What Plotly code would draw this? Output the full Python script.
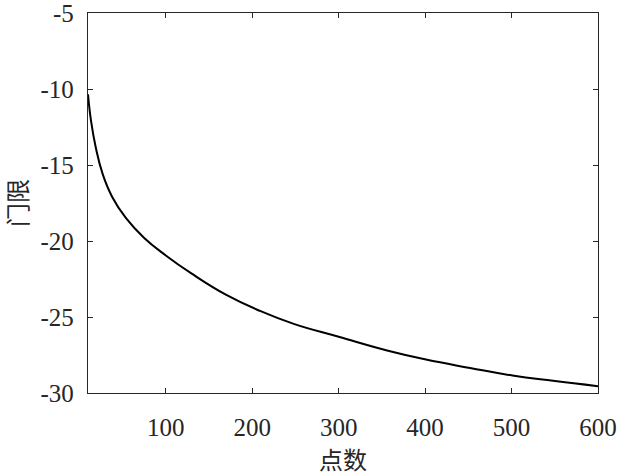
import plotly.graph_objects as go

# values
points = [10, 13.5, 19, 27, 38, 54, 75, 100, 130, 170, 209, 248, 300, 356, 401, 452, 501, 548, 600]
threshold = [-10.35, -12.1, -13.85, -15.6, -17.1, -18.5, -19.8, -20.95, -22.15, -23.55, -24.6,
             -25.45, -26.3, -27.2, -27.8, -28.35, -28.85, -29.2, -29.55]

x_ticks = [100, 200, 300, 400, 500, 600]
y_ticks = [-30, -25, -20, -15, -10, -5]
y_labels = ["-30", "-25", "-20", "-15", "-10", "-5"]

font_family = "Liberation Serif, Noto Sans CJK SC, serif"
axis_color = "#262626"

fig = go.Figure()
fig.add_trace(go.Scatter(
    x=points, y=threshold,
    mode="lines",
    line=dict(color="#000000", width=2, shape="spline", smoothing=1.3),
    showlegend=False,
))

axis_style = dict(
    showgrid=False, zeroline=False, automargin=False,
    showline=True, linecolor=axis_color, linewidth=1.3, mirror="ticks",
    ticks="inside", ticklen=5, tickwidth=1, tickcolor=axis_color,
    ticklabeloverflow="allow",
    tickfont=dict(family=font_family, size=25, color=axis_color),
)

fig.update_layout(
    width=620, height=476,
    margin=dict(l=88, r=22, t=13, b=83),
    paper_bgcolor="white", plot_bgcolor="white",
    font=dict(family=font_family, color=axis_color),
    xaxis=dict(range=[10, 600], tickvals=x_ticks, ticklabelstandoff=12,
               title=dict(text="点数", font=dict(size=24, family=font_family, color=axis_color), standoff=12),
               **axis_style),
    yaxis=dict(range=[-30, -5], tickvals=y_ticks, ticktext=y_labels, ticklabelstandoff=8,
               title=dict(text="门限", font=dict(size=24, family=font_family, color=axis_color), standoff=6),
               **axis_style),
)

# drop the default 8px body margin so the figure fills the window
fig.write_html("out.html", config={"displayModeBar": False},
               post_script="document.body.style.margin='0';")
